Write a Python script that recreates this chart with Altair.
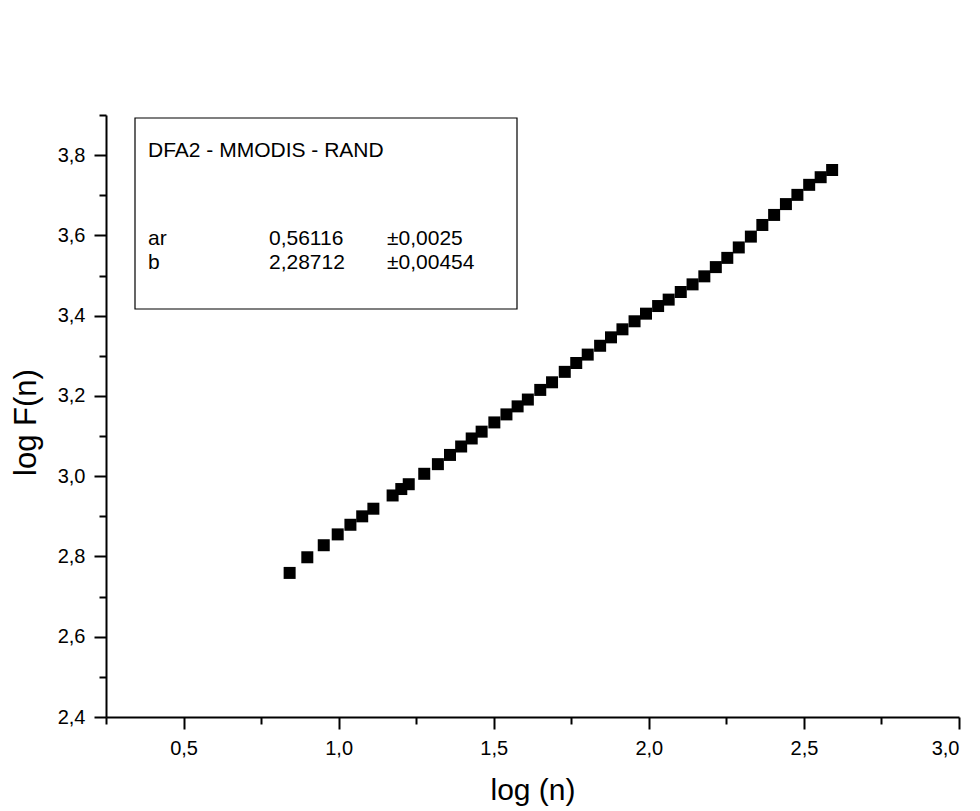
import altair as alt
import pandas as pd

# ---- data ----
log_n = [0.842, 0.899, 0.952, 0.997, 1.038, 1.076, 1.112, 1.174, 1.202, 1.226,
         1.276, 1.320, 1.359, 1.395, 1.429, 1.461, 1.502, 1.541, 1.577, 1.610,
         1.650, 1.688, 1.729, 1.766, 1.803, 1.843, 1.878, 1.915, 1.954, 1.991,
         2.030, 2.064, 2.103, 2.141, 2.179, 2.216, 2.253, 2.290, 2.329, 2.366,
         2.404, 2.442, 2.479, 2.517, 2.554, 2.591]
log_F = [2.759, 2.798, 2.828, 2.855, 2.879, 2.900, 2.919, 2.952, 2.968, 2.980,
         3.006, 3.030, 3.053, 3.074, 3.094, 3.111, 3.134, 3.154, 3.174, 3.191,
         3.215, 3.234, 3.260, 3.282, 3.303, 3.325, 3.346, 3.366, 3.386, 3.405,
         3.424, 3.440, 3.459, 3.478, 3.498, 3.521, 3.544, 3.570, 3.597, 3.626,
         3.651, 3.678, 3.701, 3.726, 3.745, 3.763]

x_ticks = [0.25, 0.5, 0.75, 1.0, 1.25, 1.5, 1.75, 2.0, 2.25, 2.5, 2.75, 3.0]
y_ticks = [2.4, 2.5, 2.6, 2.7, 2.8, 2.9, 3.0, 3.1, 3.2, 3.3, 3.4, 3.5, 3.6, 3.7, 3.8, 3.9]

box_title = "DFA2 - MMODIS - RAND"
param_names = ["ar", "b"]
param_values = ["0,56116", "2,28712"]
param_errors = ["\u00b10,0025", "\u00b10,00454"]

# ---- layout ----
L, T = 106, 115
W, H = 853, 602
FONT = "Liberation Sans"

df = pd.DataFrame({"log_n": log_n, "log_F": log_F})

x_major = "abs(datum.value*2 - round(datum.value*2)) < 0.001"
y_major = "abs(datum.value*5 - round(datum.value*5)) < 0.001"
fmt = "replace(format(datum.value, '.1f'), '.', ',')"

x_axis = alt.Axis(
    values=x_ticks, title="log (n)", grid=False,
    labelExpr=f"{x_major} ? {fmt} : ''",
    tickSize={"condition": {"test": x_major, "value": 12}, "value": 7},
    labelPadding=9, labelOverlap=False, labelFontSize=20,
    titleFontSize=30, titleFontWeight="normal", titleBaseline="alphabetic",
    titleY=82, titleX=W / 2,
)
y_axis = alt.Axis(
    values=y_ticks, title="log F(n)", grid=False,
    labelExpr=f"{y_major} ? {fmt} : ''",
    tickSize={"condition": {"test": y_major, "value": 12}, "value": 7},
    labelPadding=9, labelOverlap=False, labelFontSize=20,
    titleFontSize=31, titleFontWeight="normal", titleBaseline="alphabetic",
    titleAngle=270, titleX=-71, titleY=H / 2 + 6, titleAlign="center",
)

points = alt.Chart(df).mark_square(size=144, color="black", opacity=1, strokeWidth=0).encode(
    x=alt.X("log_n:Q", scale=alt.Scale(domain=[0.25, 3.0], nice=False, zero=False), axis=x_axis),
    y=alt.Y("log_F:Q", scale=alt.Scale(domain=[2.4, 3.9], nice=False, zero=False), axis=y_axis),
)

box = alt.Chart(pd.DataFrame({"k": [0]})).mark_rect(
    fill="white", stroke="black", strokeWidth=1.2
).encode(
    x=alt.value(29), x2=alt.value(411), y=alt.value(3), y2=alt.value(194)
)

def txt(s, x, y):
    return alt.Chart(pd.DataFrame({"t": [s]})).mark_text(
        align="left", baseline="alphabetic", font=FONT, fontSize=21, color="black"
    ).encode(text="t:N", x=alt.value(x), y=alt.value(y))

texts = [txt(box_title, 42, 42)]
row_y = [130, 154]
for i in range(2):
    texts.append(txt(param_names[i], 42, row_y[i]))
    texts.append(txt(param_values[i], 163, row_y[i]))
    texts.append(txt(param_errors[i], 281, row_y[i]))

chart = alt.layer(points, box, *texts).properties(
    width=W, height=H,
    autosize=alt.AutoSizeParams(type="none"),
    padding={"left": L, "top": T, "right": 980 - L - W, "bottom": 811 - T - H},
    background="white",
).configure_view(stroke=None).configure_axis(
    domainColor="black", domainWidth=2, tickColor="black", tickWidth=2,
    labelFont=FONT, titleFont=FONT, labelColor="black", titleColor="black",
)

chart.save("out.html", embed_options={"renderer": "svg", "actions": False})
